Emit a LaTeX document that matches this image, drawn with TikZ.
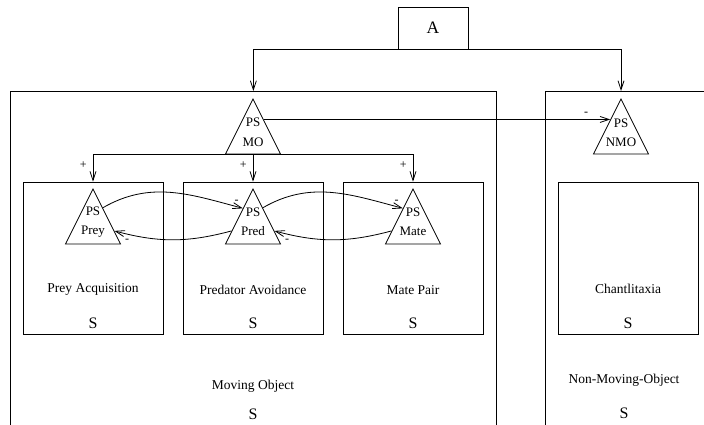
\documentclass[tikz,border=0pt]{standalone}
\usepackage{fontspec}
\setmainfont{Liberation Serif}
\usetikzlibrary{arrows.meta,shapes.geometric,calc}

\begin{document}
\begin{tikzpicture}[
  x=1pt, y=-1pt,
  line width=0.8pt,
  bigbox/.style={draw,rectangle,minimum height=360pt,anchor=north west,inner sep=0pt},
  sbox/.style={draw,rectangle,minimum width=140pt,minimum height=152pt,inner sep=0pt},
  psnode/.style={draw,isosceles triangle,shape border rotate=90,isosceles triangle stretches,
    minimum width=55pt,minimum height=55pt,inner sep=0pt,anchor=apex},
  pstext/.style={align=center,inner sep=0pt,font=\fontsize{13}{19.5}\selectfont},
  lbl/.style={font=\fontsize{13.5}{16}\selectfont},
  snode/.style={font=\fontsize{16}{18}\selectfont},
  sign/.style={font=\fontsize{12}{12}\selectfont,inner sep=1pt},
  arr/.style={-{Straight Barb[length=9pt,width=6pt]}}
]
  \useasboundingbox (0,0) rectangle (704,425);
  \clip (0,0) rectangle (704,425);

  % top node
  \node[draw,minimum width=70pt,minimum height=42pt,font=\fontsize{17.5}{18}\selectfont] (a) at (433,28) {A};

  % object boxes
  \node[bigbox,minimum width=486pt] (mobox) at (10,91) {};
  \node[bigbox,minimum width=200pt] (nmobox) at (545,91) {};

  % behaviour boxes
  \node[sbox] (preybox) at (93,258) {};
  \node[sbox] (predbox) at (253,258) {};
  \node[sbox] (matebox) at (413,258) {};
  \node[sbox] (chanbox) at (628,258) {};

  % perceptual schemas
  \node[psnode] (mo) at (253,98) {};
  \node[psnode] (nmo) at (621,98) {};
  \node[psnode] (prey) at (93,188) {};
  \node[psnode] (pred) at (253,188) {};
  \node[psnode] (mate) at (413,188) {};
  \node[pstext] (molbl) at ($(mo.apex)+(0,34.5)$) {PS\\MO};
  \node[pstext] (nmolbl) at ($(nmo.apex)+(0,35)$) {PS\\NMO};
  \node[pstext] (preylbl) at ($(prey.apex)+(0,34)$) {PS\\Prey};
  \node[pstext] (predlbl) at ($(pred.apex)+(0,34)$) {PS\\Pred};
  \node[pstext] (matelbl) at ($(mate.apex)+(0,34)$) {PS\\Mate};

  % box texts
  \node[lbl] (preytxt) at (93,289) {Prey Acquisition};
  \node[snode] (preys) at (93,323) {S};
  \node[lbl] (predtxt) at (253,290) {Predator Avoidance};
  \node[snode] (preds) at (253,323) {S};
  \node[lbl] (matetxt) at (413,290) {Mate Pair};
  \node[snode] (mates) at (413,323) {S};
  \node[lbl] (chantxt) at (628,289) {Chantlitaxia};
  \node[snode] (chans) at (628,323) {S};
  \node[lbl] (motxt) at (253,386) {Moving Object};
  \node[snode] (mos) at (253,414) {S};
  \node[lbl] (nmotxt) at (624,380) {Non-Moving-Object};
  \node[snode] (nmos) at (624,413) {S};

  % top edges
  \draw[arr] (a.south) -| (mobox.north);
  \draw[arr] (a.south) -| (nmo.apex |- nmobox.north);
  \draw[arr] ($(mo.apex)!0.38!(mo.right corner)$) --
    node[sign,pos=0.93,above=3pt] {-} ($(nmo.apex)!0.38!(nmo.left corner)$);

  % moving object edges
  \draw[arr] (mo.lower side) -| node[sign,pos=0.69,left=5pt] {+} (preybox.north);
  \draw[arr] (mo.lower side) -- node[sign,pos=0.38,left=5pt] {+} (predbox.north);
  \draw[arr] (mo.lower side) -| node[sign,pos=0.69,left=5pt] {+} (matebox.north);

  % inhibition edges
  \draw[arr] ($(prey.apex)!0.35!(prey.right corner)$) to[out=30,in=165]
    node[sign,pos=0.96,above=2pt] {-} ($(pred.apex)!0.36!(pred.left corner)$);
  \draw[arr] ($(pred.apex)!0.76!(pred.left corner)$) to[out=195,in=-15]
    node[sign,pos=0.9,below=4pt] {-} ($(prey.apex)!0.76!(prey.right corner)$);
  \draw[arr] ($(pred.apex)!0.35!(pred.right corner)$) to[out=30,in=165]
    node[sign,pos=0.96,above=2pt] {-} ($(mate.apex)!0.36!(mate.left corner)$);
  \draw[arr] ($(mate.apex)!0.76!(mate.left corner)$) to[out=195,in=-15]
    node[sign,pos=0.9,below=4pt] {-} ($(pred.apex)!0.76!(pred.right corner)$);

\end{tikzpicture}
\end{document}
